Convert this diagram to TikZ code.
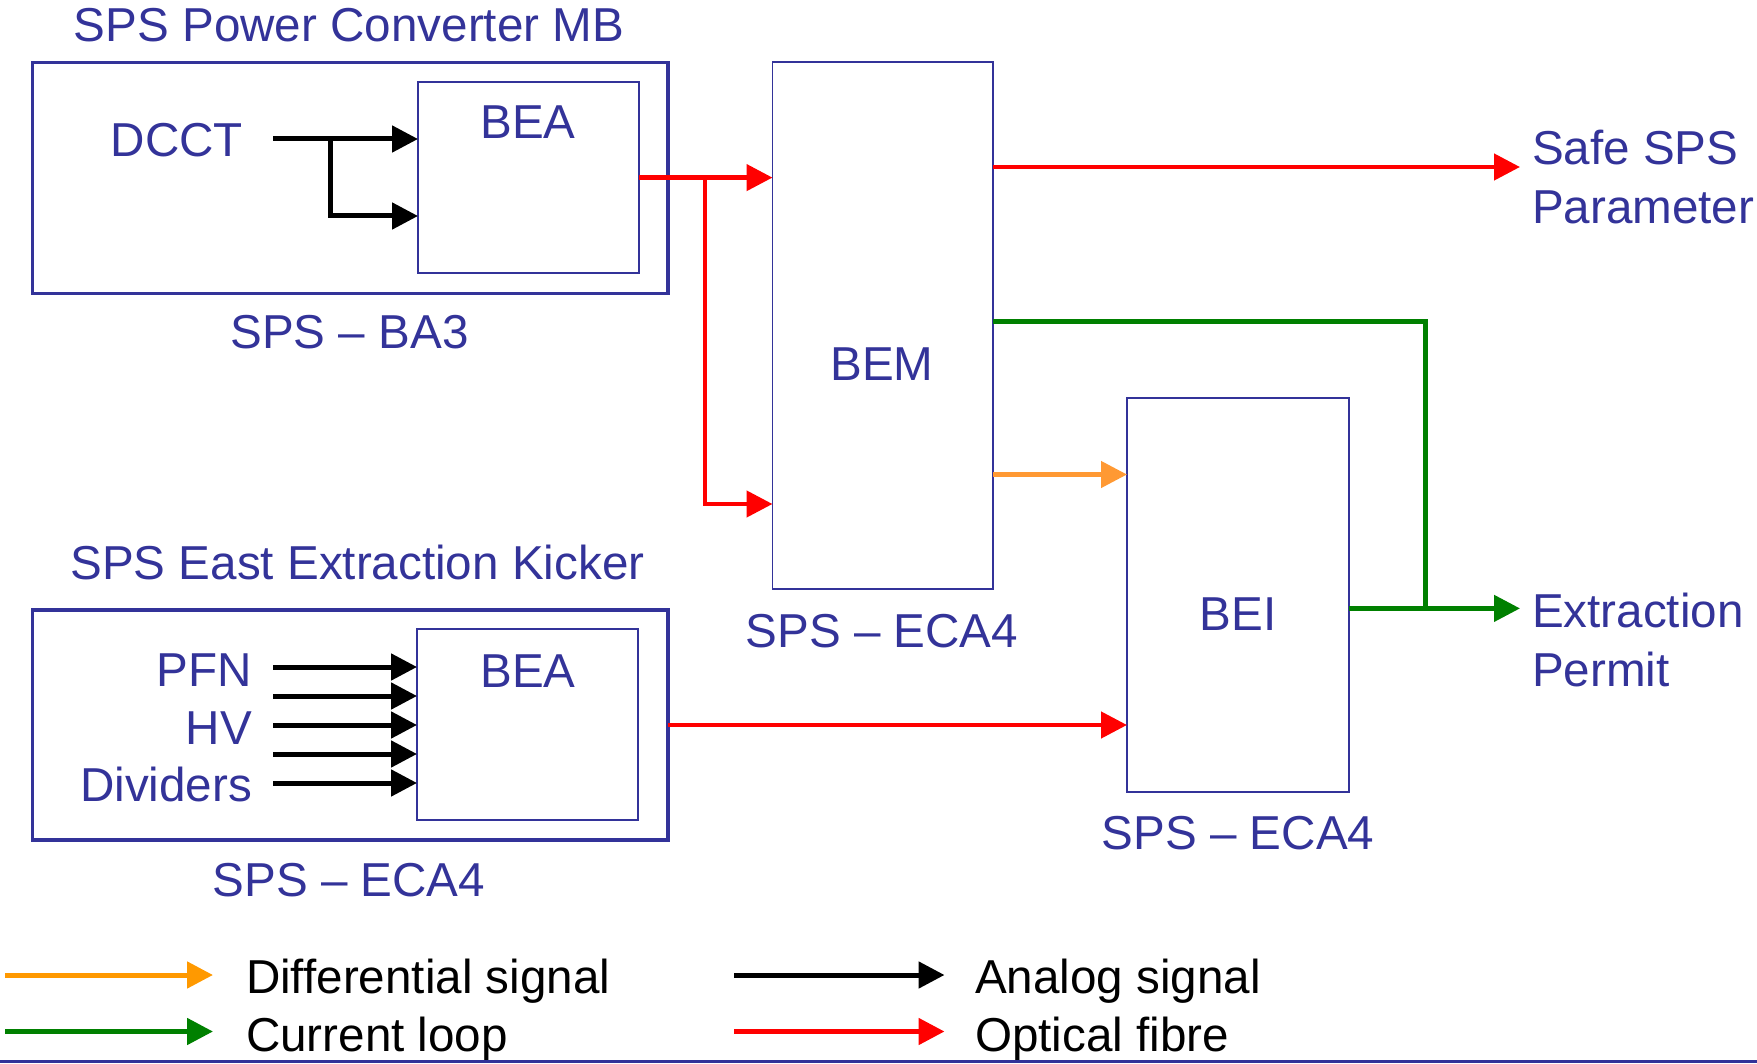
\documentclass[tikz,border=0pt]{standalone}
\usepackage{fontspec}
\setmainfont{Liberation Sans}
\usetikzlibrary{arrows.meta,fit}
\definecolor{cblue}{RGB}{51,51,153}
\definecolor{cred}{RGB}{255,0,0}
\definecolor{cgreen}{RGB}{0,128,0}
\definecolor{corange}{RGB}{255,153,51}
\definecolor{corangeL}{RGB}{255,153,0}
\begin{document}
\begin{tikzpicture}[x=0.5pt, y=-0.5pt,
  every node/.style={font=\fontsize{23.8}{28}\selectfont, text=cblue, inner sep=0pt, outer sep=0pt},
  lbl/.style={anchor=base},
  lblw/.style={anchor=base west},
  lble/.style={anchor=base east},
  legtext/.style={anchor=base west, text=black},
  outerbox/.style={draw=cblue, line width=1.6pt, inner sep=0pt, fill=none},
  innerbox/.style={draw=cblue, line width=0.9pt, inner sep=0pt, fill=none},
  tip/.style={-{Triangle[length=13pt,width=13pt]}},
  conn/.style={line width=2.3pt, line join=miter},
  analog/.style={conn, black, line width=2.5pt},
  fibre/.style={conn, cred},
  loopline/.style={conn, cgreen},
  diff/.style={conn, corange}]
\useasboundingbox (0,0) rectangle (1757,1064);

% boxes
\node[outerbox, fit={(32.5,62.7) (668,293.6)}] (outer1) {};
\node[innerbox, fit={(418,82) (639,273.2)}] (bea1) {};
\node[outerbox, fit={(32.5,610) (668,840)}] (outer2) {};
\node[innerbox, fit={(417,629) (638,820)}] (bea2) {};
\node[innerbox, fit={(772.5,62) (993,589)}] (bem) {};
\node[innerbox, fit={(1127,398) (1349,792)}] (bei) {};

% texts
\node[lbl] (title1) at (349,42) {SPS Power Converter MB};
\node[lble] (dcct) at (243,157) {DCCT};
\node[lbl] (bea1t) at (528,139) {BEA};
\node[lbl] (ba3) at (349.5,349) {SPS – BA3};
\node[lbl] (bemt) at (882,380) {BEM};
\node[lbl] (eca4a) at (882,647.5) {SPS – ECA4};
\node[lblw] (safe) at (1532,165) {Safe SPS};
\node[lblw] (param) at (1532,224) {Parameter};
\node[lbl] (beit) at (1238,630) {BEI};
\node[lbl] (eca4b) at (1238,849) {SPS – ECA4};
\node[lblw] (extr) at (1532,627.5) {Extraction};
\node[lblw] (permit) at (1532,686) {Permit};
\node[lbl] (title2) at (357.4,579) {SPS East Extraction Kicker};
\node[lble] (pfn) at (252,686) {PFN};
\node[lble] (hv) at (252,744) {HV};
\node[lble] (div) at (252,801) {Dividers};
\node[lbl] (bea2t) at (528,687) {BEA};
\node[lbl] (eca4c) at (349,896) {SPS – ECA4};

% analog signals, box 1
\coordinate (dcctout) at (273,139);
\coordinate (dcctbr) at (330,139);
\coordinate (dcctlow) at (330,216);
\draw[analog, tip] (dcctout) -- (bea1.west |- dcctout);
\draw[analog, tip] (dcctbr) -- (dcctlow) -- (bea1.west |- dcctlow);

% analog signals, box 2
\foreach \yy [count=\i] in {667,696,725,754,783}{
  \coordinate (k\i) at (273,\yy);
  \draw[analog, tip] (k\i) -- (bea2.west |- k\i);
}

% optical fibres
\coordinate (fbr) at (705,177.6);
\coordinate (fbl) at (705,504);
\draw[fibre, tip] (bea1.east) -- (bem.west |- bea1.east);
\draw[fibre, tip] (fbr) -- (fbl) -- (bem.west |- fbl);
\coordinate (safein) at (1520,167);
\draw[fibre, tip] (bem.east |- safein) -- (safein);
\draw[fibre, tip] (outer2.east) -- (bei.west |- outer2.east);

% current loop
\coordinate (cl) at (1425.5,321.6);
\coordinate (permitin) at (1520,608.4);
\draw[loopline] (bem.east |- cl) -- (cl) -- (cl |- permitin);
\draw[loopline, tip] (bei.east |- permitin) -- (permitin);

% differential signal
\coordinate (dy) at (1000,474.5);
\draw[diff, tip] (bem.east |- dy) -- (bei.west |- dy);

% legend
\coordinate (la1) at (5,975);   \coordinate (la2) at (213,975);
\coordinate (lb1) at (5,1031.5);\coordinate (lb2) at (213,1031.5);
\coordinate (lc1) at (734,975); \coordinate (lc2) at (944.5,975);
\coordinate (ld1) at (734,1031.5); \coordinate (ld2) at (944.5,1031.5);
\draw[conn, corangeL, line width=2.5pt, tip] (la1) -- (la2);
\draw[conn, cgreen, line width=2.5pt, tip] (lb1) -- (lb2);
\draw[conn, black, line width=2.5pt, tip] (lc1) -- (lc2);
\draw[conn, cred, line width=2.5pt, tip] (ld1) -- (ld2);
\node[legtext] (ldiff) at (246,993) {Differential signal};
\node[legtext] (lloop) at (246,1051) {Current loop};
\node[legtext] (lanalog) at (975,993) {Analog signal};
\node[legtext] (lfibre) at (975,1051) {Optical fibre};

% bottom rule
\coordinate (bl) at (0,1061);
\coordinate (br) at (1757,1061);
\draw[cblue, line width=1.5pt] (bl) -- (br);
\end{tikzpicture}
\end{document}
